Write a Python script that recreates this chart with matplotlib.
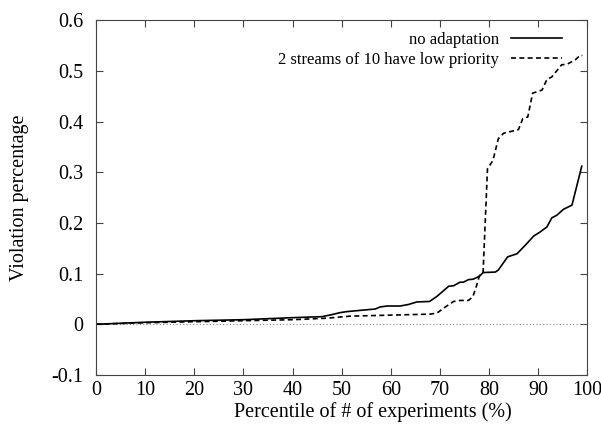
import matplotlib
matplotlib.use('Agg')
import matplotlib.pyplot as plt
from matplotlib.ticker import FormatStrFormatter

plt.rcParams['font.family'] = 'Liberation Serif'
plt.rcParams['axes.unicode_minus'] = False

# no adaptation
base_x = [0, 10, 20, 30, 40, 46, 48, 49.7, 51.1, 54.4, 56.8, 57.8, 59.2, 61.9, 63.6, 65.3,
          67.9, 69.4, 71.8, 72.8, 74.1, 74.8, 75.8, 76.8, 78.1, 78.8, 81.3, 81.9, 83.8,
          85.7, 87.4, 89.1, 90.4, 91.8, 92.8, 93.8, 95.2, 96.9, 98.9]
base_y = [0, 0.004, 0.007, 0.009, 0.013, 0.015, 0.019, 0.023, 0.025, 0.028, 0.030, 0.034,
          0.036, 0.036, 0.039, 0.044, 0.045, 0.055, 0.075, 0.076, 0.083, 0.083, 0.088,
          0.089, 0.095, 0.102, 0.103, 0.107, 0.133, 0.139, 0.156, 0.174, 0.182, 0.192,
          0.210, 0.215, 0.227, 0.235, 0.312]

# 2 streams of 10 have low priority
low_x = [0, 10, 20, 30, 40, 47, 51.7, 68, 69.4, 71.1, 72.8, 74.1, 75.8, 76.7, 77.5, 78.1,
         78.8, 79.7, 80.8, 81.9, 83.0, 86.0, 86.9, 87.9, 88.9, 90.8, 91.8, 92.8, 94.8,
         95.9, 97.6, 98.6, 99]
low_y = [0, 0.003, 0.005, 0.007, 0.009, 0.012, 0.016, 0.020, 0.022, 0.034, 0.045, 0.047,
         0.047, 0.054, 0.077, 0.097, 0.103, 0.307, 0.323, 0.366, 0.377, 0.384, 0.406,
         0.409, 0.456, 0.462, 0.483, 0.488, 0.512, 0.513, 0.522, 0.531, 0.530]

fig = plt.figure(figsize=(6.01, 4.29), dpi=100)
ax = fig.add_axes([0.16, 0.126, 0.817, 0.827])

ax.axhline(0, color='#888888', lw=0.8, ls=(0, (1, 2)))
ax.plot(base_x, base_y, color='black', lw=1.2, label='no adaptation')
ax.plot(low_x, low_y, color='black', lw=1.2, ls=(0, (3, 2)),
        label='2 streams of 10 have low priority')

ax.set_xlim(0, 100)
ax.set_ylim(-0.1, 0.6)
ax.set_xticks(range(0, 101, 10))
ax.set_yticks([-0.1, 0, 0.1, 0.2, 0.3, 0.4, 0.5, 0.6])
ax.yaxis.set_major_formatter(FormatStrFormatter('%g'))
ax.tick_params(direction='in', top=True, right=True, labelsize=14.5, length=5,
               color='#444444')
ax.tick_params(axis='x', pad=4)
ax.tick_params(axis='y', pad=9)
for s in ax.spines.values():
    s.set_color('#444444')

ax.set_xlabel('Percentile of # of experiments (%)', fontsize=14.5)
ax.xaxis.set_label_coords(0.564, -0.077)
ax.set_ylabel('Violation percentage', fontsize=14.5, labelpad=16)

ax.legend(loc='upper right', bbox_to_anchor=(0.9715, 1.0), frameon=False,
          markerfirst=False, fontsize=12, handlelength=3.05, handletextpad=0.7,
          borderaxespad=0.3, labelspacing=0.25)

fig.savefig('out.png', dpi=100)
